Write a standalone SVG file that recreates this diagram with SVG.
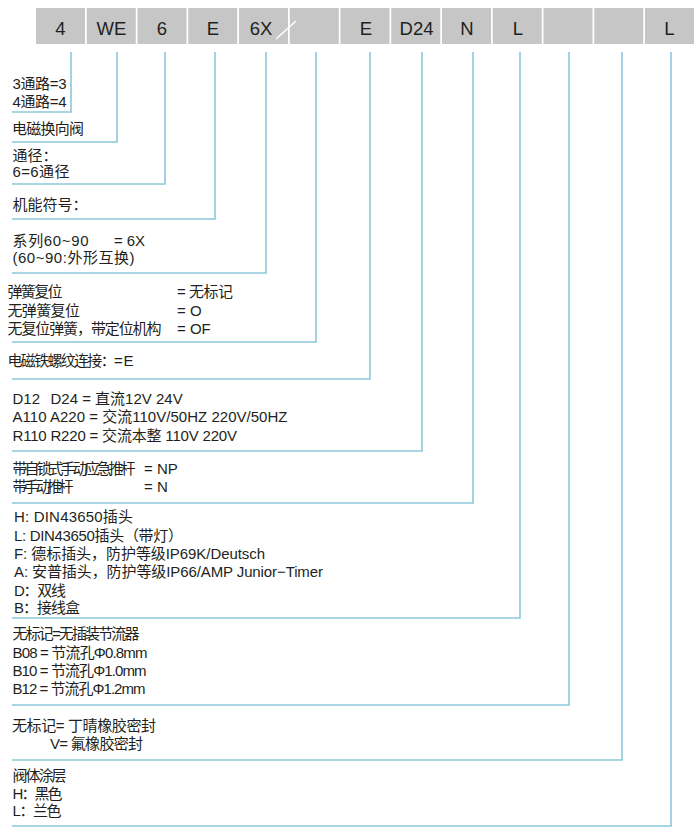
<svg xmlns="http://www.w3.org/2000/svg" width="700" height="835" viewBox="0 0 700 835">
<style>
.t{font-family:'Liberation Sans','Noto Sans CJK SC',sans-serif;font-size:15px;fill:#231f20}
.b{font-family:'Liberation Sans','Noto Sans CJK SC',sans-serif;font-size:18.5px;fill:#231f20;text-anchor:middle}
.box{fill:#c6c6c6}
.c{fill:none;stroke:#8cc7db;stroke-width:1.6}
</style>
<rect width="700" height="835" fill="#fff"/>
<g id="code">
<g id="b1"><rect class="box" x="36" y="8" width="49" height="36"/><text class="b" x="60.5" y="35">4</text></g>
<g id="b2"><rect class="box" x="86.75" y="8" width="49" height="36"/><text class="b" x="111.5" y="35">WE</text></g>
<g id="b3"><rect class="box" x="137.5" y="8" width="49" height="36"/><text class="b" x="162" y="35">6</text></g>
<g id="b4"><rect class="box" x="188.25" y="8" width="49" height="36"/><text class="b" x="213" y="35">E</text></g>
<g id="b5"><rect class="box" x="239" y="8" width="49" height="36"/><text class="b" x="261" y="35">6X</text></g>
<g id="b6"><rect class="box" x="289.75" y="8" width="49" height="36"/></g>
<g id="b7"><rect class="box" x="340.5" y="8" width="49" height="36"/><text class="b" x="366" y="35">E</text></g>
<g id="b8"><rect class="box" x="391.25" y="8" width="49" height="36"/><text class="b" x="416.5" y="35">D24</text></g>
<g id="b9"><rect class="box" x="442" y="8" width="49" height="36"/><text class="b" x="467" y="35">N</text></g>
<g id="b10"><rect class="box" x="492.75" y="8" width="49" height="36"/><text class="b" x="518" y="35">L</text></g>
<g id="b11"><rect class="box" x="543.5" y="8" width="49" height="36"/></g>
<g id="b12"><rect class="box" x="594.25" y="8" width="49" height="36"/></g>
<g id="b13"><rect class="box" x="645" y="8" width="49" height="36"/><text class="b" x="669.5" y="35">L</text></g>
<line x1="276" y1="39" x2="296" y2="21" stroke="#fff" stroke-width="1.5"/>
</g>
<g id="connectors">
<polyline class="c" points="71,52 71,112 12,112"/>
<polyline class="c" points="117,52 117,142 12,142"/>
<polyline class="c" points="165,52 165,184 12,184"/>
<polyline class="c" points="215,52 215,219 12,219"/>
<polyline class="c" points="266,52 266,273 12,273"/>
<polyline class="c" points="316,52 316,342 12,342"/>
<polyline class="c" points="370,52 370,379 12,379"/>
<polyline class="c" points="422,52 422,451 12,451"/>
<polyline class="c" points="473,52 473,503 12,503"/>
<polyline class="c" points="520,52 520,618 12,618"/>
<polyline class="c" points="569,52 569,705 12,705"/>
<polyline class="c" points="622,52 622,760 12,760"/>
<polyline class="c" points="671,52 671,826 12,826"/>
</g>
<g id="n1"><text class="t" x="12.5" y="89" textLength="54">3通路=3</text><text class="t" x="12.5" y="107" textLength="54">4通路=4</text></g>
<g id="n2"><text class="t" x="12" y="134" textLength="72">电磁换向阀</text></g>
<g id="n3"><text class="t" x="12.5" y="161">通径：</text><text class="t" x="12.5" y="177" textLength="57">6=6通径</text></g>
<g id="n4"><text class="t" x="12.5" y="210">机能符号：</text></g>
<g id="n5"><text class="t" x="12.5" y="246" textLength="76">系列60~90</text><text class="t" x="114" y="246" textLength="31">= 6X</text><text class="t" x="12.5" y="263" textLength="122">(60~90:外形互换)</text></g>
<g id="n6">
<text class="t" x="7.5" y="297" textLength="55">弹簧复位</text><text class="t" x="177" y="297" textLength="56">= 无标记</text>
<text class="t" x="7.5" y="316" textLength="72.5">无弹簧复位</text><text class="t" x="177" y="316">= O</text>
<text class="t" x="7.5" y="334" textLength="154">无复位弹簧，带定位机构</text><text class="t" x="177" y="334">= OF</text>
</g>
<g id="n7"><text class="t" x="7.5" y="366" textLength="126">电磁铁螺纹连接：= E</text></g>
<g id="n8">
<text class="t" x="12.5" y="404">D12<tspan x="50.5">D24 = 直流12V 24V</tspan></text>
<text class="t" x="12.5" y="422" textLength="275">A110 A220 = 交流110V/50HZ 220V/50HZ</text>
<text class="t" x="12.5" y="441" textLength="224.5">R110 R220 = 交流本整 110V 220V</text>
</g>
<g id="n9">
<text class="t" x="12.5" y="474" textLength="123">带自锁式手动应急推杆</text><text class="t" x="144" y="474">= NP</text>
<text class="t" x="12.5" y="492" textLength="61">带手动推杆</text><text class="t" x="144" y="492">= N</text>
</g>
<g id="n10">
<text class="t" x="14" y="522" textLength="119">H: DIN43650插头</text>
<text class="t" x="14" y="541" textLength="169">L: DIN43650插头（带灯）</text>
<text class="t" x="14" y="559" textLength="251">F: 德标插头，防护等级IP69K/Deutsch</text>
<text class="t" x="14" y="577" textLength="309">A: 安普插头，防护等级IP66/AMP Junior−Timer</text>
<text class="t" x="14" y="596" textLength="52">D：双线</text>
<text class="t" x="14" y="613" textLength="66">B：接线盒</text>
</g>
<g id="n11">
<text class="t" x="12.5" y="639" textLength="127">无标记=无插装节流器</text>
<text class="t" x="12.5" y="658" textLength="135">B08 = 节流孔Φ0.8mm</text>
<text class="t" x="12.5" y="676" textLength="134">B10 = 节流孔Φ1.0mm</text>
<text class="t" x="12.5" y="694" textLength="133">B12 = 节流孔Φ1.2mm</text>
</g>
<g id="n12">
<text class="t" x="12" y="731" textLength="144">无标记= 丁晴橡胶密封</text>
<text class="t" x="50" y="749" textLength="93">V= 氟橡胶密封</text>
</g>
<g id="n13">
<text class="t" x="12.5" y="781" textLength="54">阀体涂层</text>
<text class="t" x="12.5" y="799" textLength="50">H：黑色</text>
<text class="t" x="12.5" y="816" textLength="49">L：兰色</text>
</g>
</svg>
